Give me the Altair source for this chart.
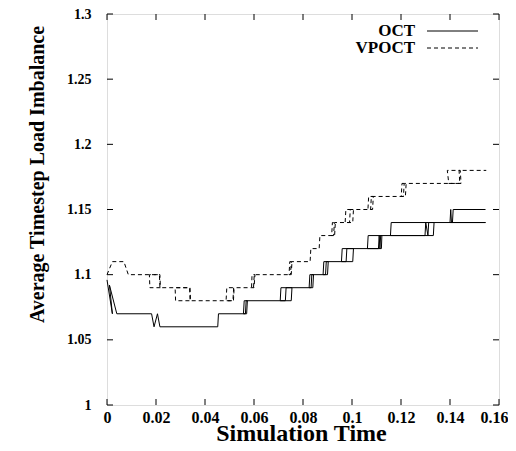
import altair as alt
import pandas as pd

series_names = ["OCT", "VPOCT"]

oct_x = [0.0000, 0.0022, 0.0010, 0.0040, 0.0182, 0.0192, 0.0206, 0.0216,
         0.0452, 0.0455, 0.0570, 0.0573, 0.0560, 0.0557, 0.0565, 0.0568,
         0.0752, 0.0755, 0.0710, 0.0707, 0.0728, 0.0731,
         0.0840, 0.0843, 0.0828, 0.0825, 0.0833, 0.0836,
         0.0900, 0.0903, 0.0885, 0.0882, 0.0892, 0.0895,
         0.1003, 0.1006, 0.0960, 0.0957, 0.0976, 0.0979,
         0.1120, 0.1122, 0.1066, 0.1063, 0.1108, 0.1111, 0.1114, 0.1117,
         0.1332, 0.1335, 0.1160, 0.1157, 0.1298, 0.1301, 0.1310, 0.1313,
         0.1545, 0.1400, 0.1403, 0.1406, 0.1410, 0.1413, 0.1545]
oct_y = [1.096, 1.070, 1.092, 1.070, 1.070, 1.060, 1.070, 1.060,
         1.060, 1.070, 1.070, 1.080, 1.080, 1.070, 1.070, 1.080,
         1.080, 1.090, 1.090, 1.080, 1.080, 1.090,
         1.090, 1.100, 1.100, 1.090, 1.090, 1.100,
         1.100, 1.110, 1.110, 1.100, 1.100, 1.110,
         1.110, 1.120, 1.120, 1.110, 1.110, 1.120,
         1.120, 1.130, 1.130, 1.120, 1.120, 1.130, 1.120, 1.130,
         1.130, 1.140, 1.140, 1.130, 1.130, 1.140, 1.130, 1.140,
         1.140, 1.140, 1.150, 1.140, 1.140, 1.150, 1.150]

vpoct_x = [0.0000, 0.0022, 0.0069, 0.0087,
           0.0216, 0.0218, 0.0175, 0.0173, 0.0214, 0.0216,
           0.0339, 0.0341, 0.0280, 0.0278, 0.0337, 0.0339,
           0.0516, 0.0519, 0.0489, 0.0486, 0.0514, 0.0517,
           0.0600, 0.0604, 0.0592, 0.0590, 0.0598, 0.0601,
           0.0752, 0.0755, 0.0746, 0.0743, 0.0749, 0.0752,
           0.0829, 0.0832, 0.0866, 0.0869,
           0.0929, 0.0932, 0.0920, 0.0917, 0.0925, 0.0928,
           0.1003, 0.1006, 0.0975, 0.0972, 0.0990, 0.0993,
           0.1084, 0.1087, 0.1068, 0.1065, 0.1076, 0.1079,
           0.1218, 0.1221, 0.1204, 0.1201, 0.1210, 0.1213,
           0.1445, 0.1442, 0.1389, 0.1395, 0.1440, 0.1437,
           0.1548]
vpoct_y = [1.100, 1.110, 1.110, 1.100,
           1.100, 1.090, 1.090, 1.100, 1.100, 1.090,
           1.090, 1.080, 1.080, 1.090, 1.090, 1.080,
           1.080, 1.090, 1.090, 1.080, 1.080, 1.090,
           1.090, 1.100, 1.100, 1.090, 1.090, 1.100,
           1.100, 1.110, 1.110, 1.100, 1.100, 1.110,
           1.110, 1.120, 1.120, 1.130,
           1.130, 1.140, 1.140, 1.130, 1.130, 1.140,
           1.140, 1.150, 1.150, 1.140, 1.140, 1.150,
           1.150, 1.160, 1.160, 1.150, 1.150, 1.160,
           1.160, 1.170, 1.170, 1.160, 1.160, 1.170,
           1.170, 1.180, 1.180, 1.170, 1.170, 1.180,
           1.180]

x_ticks = [0, 0.02, 0.04, 0.06, 0.08, 0.1, 0.12, 0.14, 0.16]
y_ticks = [1, 1.05, 1.1, 1.15, 1.2, 1.25, 1.3]

W, H = 392, 391
FONT = "Liberation Serif"

df_oct = pd.DataFrame({"x": oct_x, "y": oct_y, "i": range(len(oct_x))})
df_vp = pd.DataFrame({"x": vpoct_x, "y": vpoct_y, "i": range(len(vpoct_x))})
df_xt = pd.DataFrame({"x": x_ticks})
df_yt = pd.DataFrame({"y": y_ticks})

xscale = alt.Scale(domain=[0, 0.16], nice=False, zero=False)
yscale = alt.Scale(domain=[1, 1.3], nice=False, zero=False)

xaxis = alt.Axis(values=x_ticks, format="~g",
                 ticks=False, tickSize=0, domain=False, grid=False,
                 labelFont=FONT, labelFontWeight="bold", labelFontSize=16,
                 labelColor="black", labelPadding=4, labelBaseline="top",
                 labelFlush=False,
                 labelAlign={"condition": {"test": "datum.value >= 0.159", "value": "right"},
                             "value": "center"},
                 labelOffset={"condition": {"test": "datum.value >= 0.159", "value": 9},
                              "value": 0},
                 titleFont=FONT, titleFontWeight="bold", titleFontSize=24,
                 titleColor="black", titleBaseline="alphabetic",
                 titleX=194, titleY=35, titleAlign="center")
yaxis = alt.Axis(values=y_ticks, format="~g",
                 ticks=False, tickSize=0, domain=False, grid=False,
                 labelFont=FONT, labelFontWeight="bold", labelFontSize=14,
                 labelColor="black", labelPadding=16, labelFlush=False,
                 titleFont=FONT, titleFontWeight="bold", titleFontSize=20,
                 titleColor="black", titleBaseline="alphabetic",
                 titleX=-64, titleY=160, titleAlign="center", titleAngle=-90)

XT = "Simulation Time"
YT = "Average Timestep Load Imbalance"


def X():
    return alt.X("x:Q", scale=xscale, axis=xaxis, title=XT)


def Y():
    return alt.Y("y:Q", scale=yscale, axis=yaxis, title=YT)


oct_line = alt.Chart(df_oct).mark_line(color="black", strokeWidth=1).encode(
    x=X(), y=Y(), order="i:Q")
vp_line = alt.Chart(df_vp).mark_line(color="black", strokeWidth=1, strokeDash=[4, 3]).encode(
    x=X(), y=Y(), order="i:Q")

tick_len = 6
xt_bottom = alt.Chart(df_xt).mark_rule(color="black", strokeWidth=1).encode(
    x=X(), y=alt.value(H), y2=alt.value(H - tick_len))
xt_top = alt.Chart(df_xt).mark_rule(color="black", strokeWidth=1).encode(
    x=X(), y=alt.value(0), y2=alt.value(tick_len))
yt_left = alt.Chart(df_yt).mark_rule(color="black", strokeWidth=1).encode(
    y=Y(), x=alt.value(0), x2=alt.value(tick_len))
yt_right = alt.Chart(df_yt).mark_rule(color="black", strokeWidth=1).encode(
    y=Y(), x=alt.value(W), x2=alt.value(W - tick_len))

leg_ys = [17, 34]
leg_layers = []
for name, ly, dash in zip(series_names, leg_ys, [[1, 0], [4, 3]]):
    dfl = pd.DataFrame({"label": [name]})
    leg_layers.append(
        alt.Chart(dfl).mark_text(font=FONT, fontWeight="bold", fontSize=17,
                                 align="right", baseline="middle", color="black").encode(
            x=alt.value(308), y=alt.value(ly), text="label:N"))
    leg_layers.append(
        alt.Chart(dfl).mark_rule(color="black", strokeWidth=1, strokeDash=dash).encode(
            x=alt.value(320), x2=alt.value(371), y=alt.value(ly)))

chart = alt.layer(oct_line, vp_line, xt_bottom, xt_top, yt_left, yt_right, *leg_layers).properties(
    width=W, height=H,
    autosize=alt.AutoSizeParams(type="none"),
    padding={"left": 99, "top": 6, "right": 9, "bottom": 38},
).configure_view(stroke="black", strokeWidth=1).configure(background="white")

chart.save("out.html", embed_options={"renderer": "svg", "actions": False})
